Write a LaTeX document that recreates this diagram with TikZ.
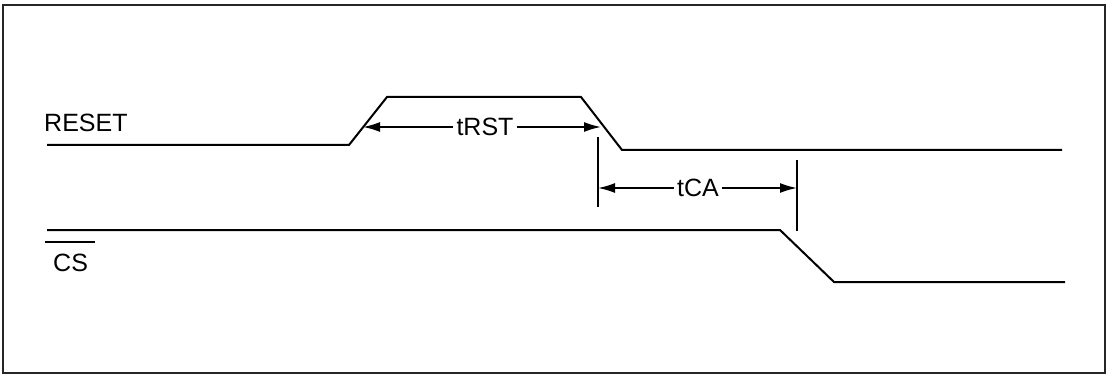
\documentclass[tikz,border=0pt]{standalone}
\usepackage{fontspec}
\setmainfont{Liberation Sans}
\usetikzlibrary{arrows.meta}
\begin{document}
\begin{tikzpicture}[x=1pt,y=-1pt,
  sig/.style={line width=2pt, line join=miter},
  dim/.style={line width=1.7pt},
  arr/.style={line width=1.7pt,-{Latex[length=17pt,width=10pt]}},
  lbl/.style={font=\fontsize{25}{30}\selectfont, inner sep=0pt},
  tlbl/.style={font=\fontsize{25}{30}\selectfont, inner sep=3pt, fill=white}]
\useasboundingbox (0,0) rectangle (1108,374);
\draw[line width=1.4pt, black!85] (3,5) rectangle (1105,373);
% RESET signal
\draw[sig] (47,145) -- (349,145) -- (387,97) -- (581,97) -- (622,150) -- (1062,150);
% CS signal
\draw[sig] (47,230) -- (780,230) -- (834,282) -- (1065,282);
% labels
\node[lbl, anchor=base west] (reset) at (44,132) {RESET};
\node[lbl, anchor=base west] (cs) at (53,271) {CS};
\draw[line width=1.6pt] (45,242) -- (95,242);
% tRST
\coordinate (r1) at (363,127);
\coordinate (r2) at (601,127);
\node[tlbl] (trst) at (485,127) {tRST};
\draw[arr] (trst.west) -- (r1);
\draw[arr] (trst.east) -- (r2);
% tCA
\coordinate (v1t) at (598,137);
\coordinate (v1b) at (598,207);
\coordinate (v2t) at (797,160);
\coordinate (v2b) at (797,231);
\draw[dim] (v1t) -- (v1b);
\draw[dim] (v2t) -- (v2b);
\coordinate (c1) at (598,188);
\coordinate (c2) at (797,188);
\node[tlbl] (tca) at (698,188) {tCA};
\draw[arr] (tca.west) -- (c1);
\draw[arr] (tca.east) -- (c2);
\end{tikzpicture}
\end{document}
